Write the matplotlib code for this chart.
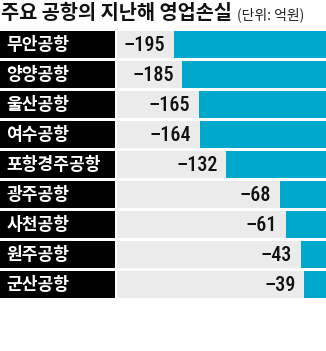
import numpy as np
import matplotlib
matplotlib.use('Agg')
import matplotlib.pyplot as plt
from matplotlib import font_manager

installed = {f.name for f in font_manager.fontManager.ttflist}


def pick(*cands):
    for c in cands:
        if c in installed:
            return [c, 'DejaVu Sans']
    return ['DejaVu Sans']


num_font = pick('Roboto Condensed', 'Sofia Sans Condensed', 'Archivo Narrow',
                'PT Sans Narrow', 'Liberation Sans Narrow')
plt.rcParams['font.family'] = ['Noto Sans CJK KR', 'DejaVu Sans']

airports = ['무안공항', '양양공항', '울산공항', '여수공항', '포항경주공항',
            '광주공항', '사천공항', '원주공항', '군산공항']
losses = [-195, -185, -165, -164, -132, -68, -61, -43, -39]

title = '주요 공항의 지난해 영업손실'
unit = '(단위: 억원)'

blue = '#00a8cc'
gray = '#ebebeb'

W, H = 326, 351
fig = plt.figure(figsize=(W / 100, H / 100), dpi=100)

# chart rows occupy roughly y=29..300 px
bottom = 1 - 299.75 / H
height = 270.5 / H
y = np.arange(len(airports))
bar_h = 0.885

# label column
ax_l = fig.add_axes([0, bottom, 115 / W, height])
ax_l.barh(y, 1, height=bar_h, color='black')
for yi, name in zip(y, airports):
    ax_l.text(0.055, yi + 0.02, name, color='white', fontsize=12.3,
              fontweight='bold', va='center', ha='left')
ax_l.set_xlim(0, 1)
ax_l.set_ylim(len(airports) - 0.5, -0.5)
ax_l.axis('off')

# bar column
ax = fig.add_axes([117 / W, bottom, 1 - 117 / W, height])
xmin, xmax = -263, -12.5
ax.barh(y, xmax - xmin, left=xmin, height=bar_h, color=gray)
ax.barh(y, losses, height=bar_h, color=blue)
for yi, v in zip(y, losses):
    ax.text(v - 10, yi + 0.03, '\u2013' + str(abs(v)), color='#111111',
            fontsize=14.5, fontweight='medium', ha='right', va='center',
            family=num_font)
ax.set_xlim(xmin, xmax)
ax.set_ylim(len(airports) - 0.5, -0.5)
ax.axis('off')

fig.text(1 / W, 1 - 13 / H, title, fontsize=14.2, fontweight='bold',
         va='center', ha='left', color='#111111')
fig.text(237 / W, 1 - 14.5 / H, unit, fontsize=10, fontweight='light',
         va='center', ha='left', color='#222222')

fig.savefig('out.png', dpi=100)
